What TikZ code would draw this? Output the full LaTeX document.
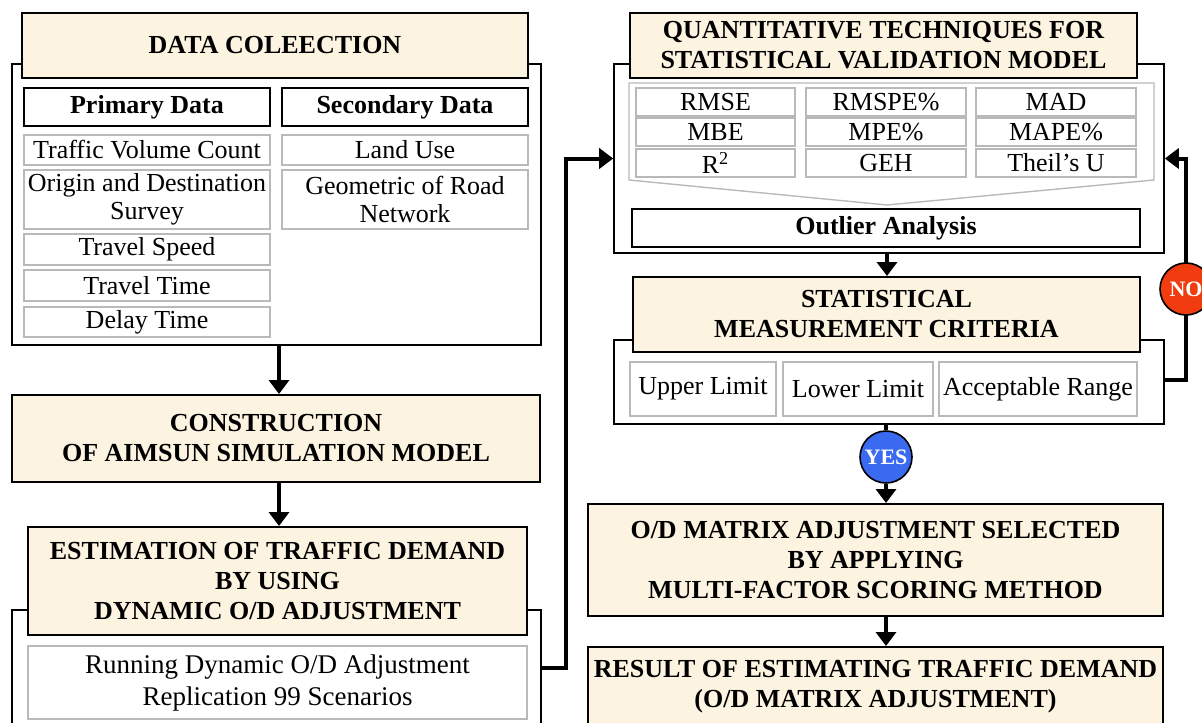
\documentclass[tikz,border=0pt]{standalone}
\usepackage{fontspec}
\setmainfont{Liberation Serif}
\usepackage{xcolor}
\definecolor{cream}{HTML}{FDF3E1}
\definecolor{yesblue}{HTML}{3A6AF0}
\definecolor{nored}{HTML}{F03C0F}
\usepackage{tikz}
\usetikzlibrary{arrows.meta, positioning}

\begin{document}
\begin{tikzpicture}[x=0.5pt, y=-0.5pt,
    fr/.style={draw, line width=0.8pt, inner sep=0pt},
    hd/.style={draw, line width=1pt, fill=cream, align=center, inner sep=0pt,
               font=\fontsize{13}{15}\selectfont\bfseries},
    sb/.style={draw, line width=0.8pt, align=center, inner sep=0pt,
               font=\fontsize{13}{15}\selectfont\bfseries},
    cl/.style={draw=gray!55, line width=0.7pt, align=center, inner sep=0pt,
               font=\fontsize{13}{14}\selectfont},
    dot/.style={circle, draw, line width=0.8pt, minimum size=26pt, inner sep=0pt,
                text=white, font=\fontsize{11}{13}\selectfont\bfseries},
    a/.style={-{Triangle[width=10pt,length=7pt]}, line width=2pt}]
  \useasboundingbox (0,0) rectangle (1202,722);
  \clip (0,0) rectangle (1202,722);

  % data collection
  \node[fr, minimum width=264.5pt, minimum height=140.5pt] (dcfr) at (276.5,204.5) {};
  \node[hd, minimum width=253pt, minimum height=32.5pt] (dc) at (275,45.5) {DATA COLEECTION};
  \node[sb, minimum width=123pt, minimum height=19pt] (prim) at (147,107) {Primary Data};
  \node[sb, minimum width=123pt, minimum height=19pt] (sec) at (405,107) {Secondary Data};
  \node[cl, minimum width=123pt, minimum height=15pt] (tvc) at (147,150) {Traffic Volume Count};
  \node[cl, minimum width=123pt, minimum height=29.5pt] (ods) at (147,199.5) {Origin and Destination\\Survey};
  \node[cl, minimum width=123pt, minimum height=15.5pt] (tsp) at (147,249.5) {Travel Speed};
  \node[cl, minimum width=123pt, minimum height=15.5pt] (ttm) at (147,285.5) {Travel Time};
  \node[cl, minimum width=123pt, minimum height=15pt] (dtm) at (147,322) {Delay Time};
  \node[cl, minimum width=123pt, minimum height=15pt] (lu) at (405,150) {Land Use};
  \node[cl, minimum width=123pt, minimum height=29.5pt] (geo) at (405,199.5) {Geometric of Road\\Network};

  % construction and estimation
  \node[hd, minimum width=264pt, minimum height=43.5pt] (cons) at (276,438.5) {CONSTRUCTION\\OF AIMSUN SIMULATION MODEL};
  \node[fr, minimum width=264.5pt, minimum height=70pt] (estfr) at (276.5,680) {};
  \node[hd, minimum width=249.5pt, minimum height=54pt] (est) at (277.5,581)
    {ESTIMATION OF TRAFFIC DEMAND\\BY USING\\DYNAMIC O/D ADJUSTMENT};
  \node[cl, minimum width=249.5pt, minimum height=36.5pt, font=\fontsize{13.5}{16}\selectfont] (run) at (277.5,682.5)
    {Running Dynamic O/D Adjustment\\Replication 99 Scenarios};

  % validation techniques
  \node[fr, minimum width=275pt, minimum height=94.5pt] (qfr) at (889,158.5) {};
  \node[hd, minimum width=253.5pt, minimum height=32.5pt] (qt) at (883.5,45.5)
    {QUANTITATIVE TECHNIQUES FOR\\STATISTICAL VALIDATION MODEL};
  \draw[gray!55, line width=0.7pt] (629,83) -- (1154,83) -- (1154,180) -- (887,205) -- (629,180) -- cycle;
  \node[cl, minimum width=79.5pt, minimum height=14pt] (rmse) at (715.5,102) {RMSE};
  \node[cl, minimum width=80pt, minimum height=14pt] (rmspe) at (886,102) {RMSPE\%};
  \node[cl, minimum width=80pt, minimum height=14pt] (mad) at (1056,102) {MAD};
  \node[cl, minimum width=79.5pt, minimum height=14pt] (mbe) at (715.5,132) {MBE};
  \node[cl, minimum width=80pt, minimum height=14pt] (mpe) at (886,132) {MPE\%};
  \node[cl, minimum width=80pt, minimum height=14pt] (mape) at (1056,132) {MAPE\%};
  \node[cl, minimum width=79.5pt, minimum height=14pt] (rsq) at (715.5,163) {R\textsuperscript{2}};
  \node[cl, minimum width=80pt, minimum height=14pt] (geh) at (886,163) {GEH};
  \node[cl, minimum width=80pt, minimum height=14pt] (theil) at (1056,163) {Theil’s U};
  \node[sb, minimum width=254pt, minimum height=19pt] (outl) at (886,228) {Outlier Analysis};

  % measurement criteria
  \node[fr, minimum width=275pt, minimum height=42pt] (mfr) at (889,382) {};
  \node[hd, minimum width=253.5pt, minimum height=37.5pt] (mc) at (886.5,314.5)
    {STATISTICAL\\MEASUREMENT CRITERIA};
  \node[cl, minimum width=73pt, minimum height=27pt] (upl) at (703,389) {Upper Limit};
  \node[cl, minimum width=75pt, minimum height=27pt] (lol) at (858,389) {Lower Limit};
  \node[cl, minimum width=99pt, minimum height=27pt] (acc) at (1038,389) {Acceptable Range};

  % selection and result
  \node[hd, minimum width=287.5pt, minimum height=56pt] (sel) at (875.5,560)
    {O/D MATRIX ADJUSTMENT SELECTED\\BY APPLYING\\MULTI-FACTOR SCORING METHOD};
  \node[hd, minimum width=287.5pt, minimum height=40pt] (res) at (875.5,687)
    {RESULT OF ESTIMATING TRAFFIC DEMAND\\(O/D MATRIX ADJUSTMENT)};

  % connectors
  \coordinate (jl) at (566,668);
  \coordinate (jr) at (1186,380);
  \draw[a] (dcfr.south -| 279,0) -- (cons.north -| 279,0);
  \draw[a] (cons.south -| 279,0) -- (est.north -| 279,0);
  \draw[a] (jl -| estfr.east) -- (jl) |- (qfr.west);
  \draw[a] (qfr.south -| 887,0) -- (mc.north -| 887,0);
  \draw[a] (jr -| mfr.east) -- (jr) |- (qfr.east);
  \node[dot, fill=nored] (no) at (1186,289) {NO};
  \node[dot, fill=yesblue] (yes) at (886,457) {YES};
  \draw[line width=2pt] (mfr.south -| yes) -- (yes);
  \draw[a] (yes) -- (sel.north -| yes);
  \draw[a] (sel.south -| yes) -- (res.north -| yes);
\end{tikzpicture}
\end{document}
